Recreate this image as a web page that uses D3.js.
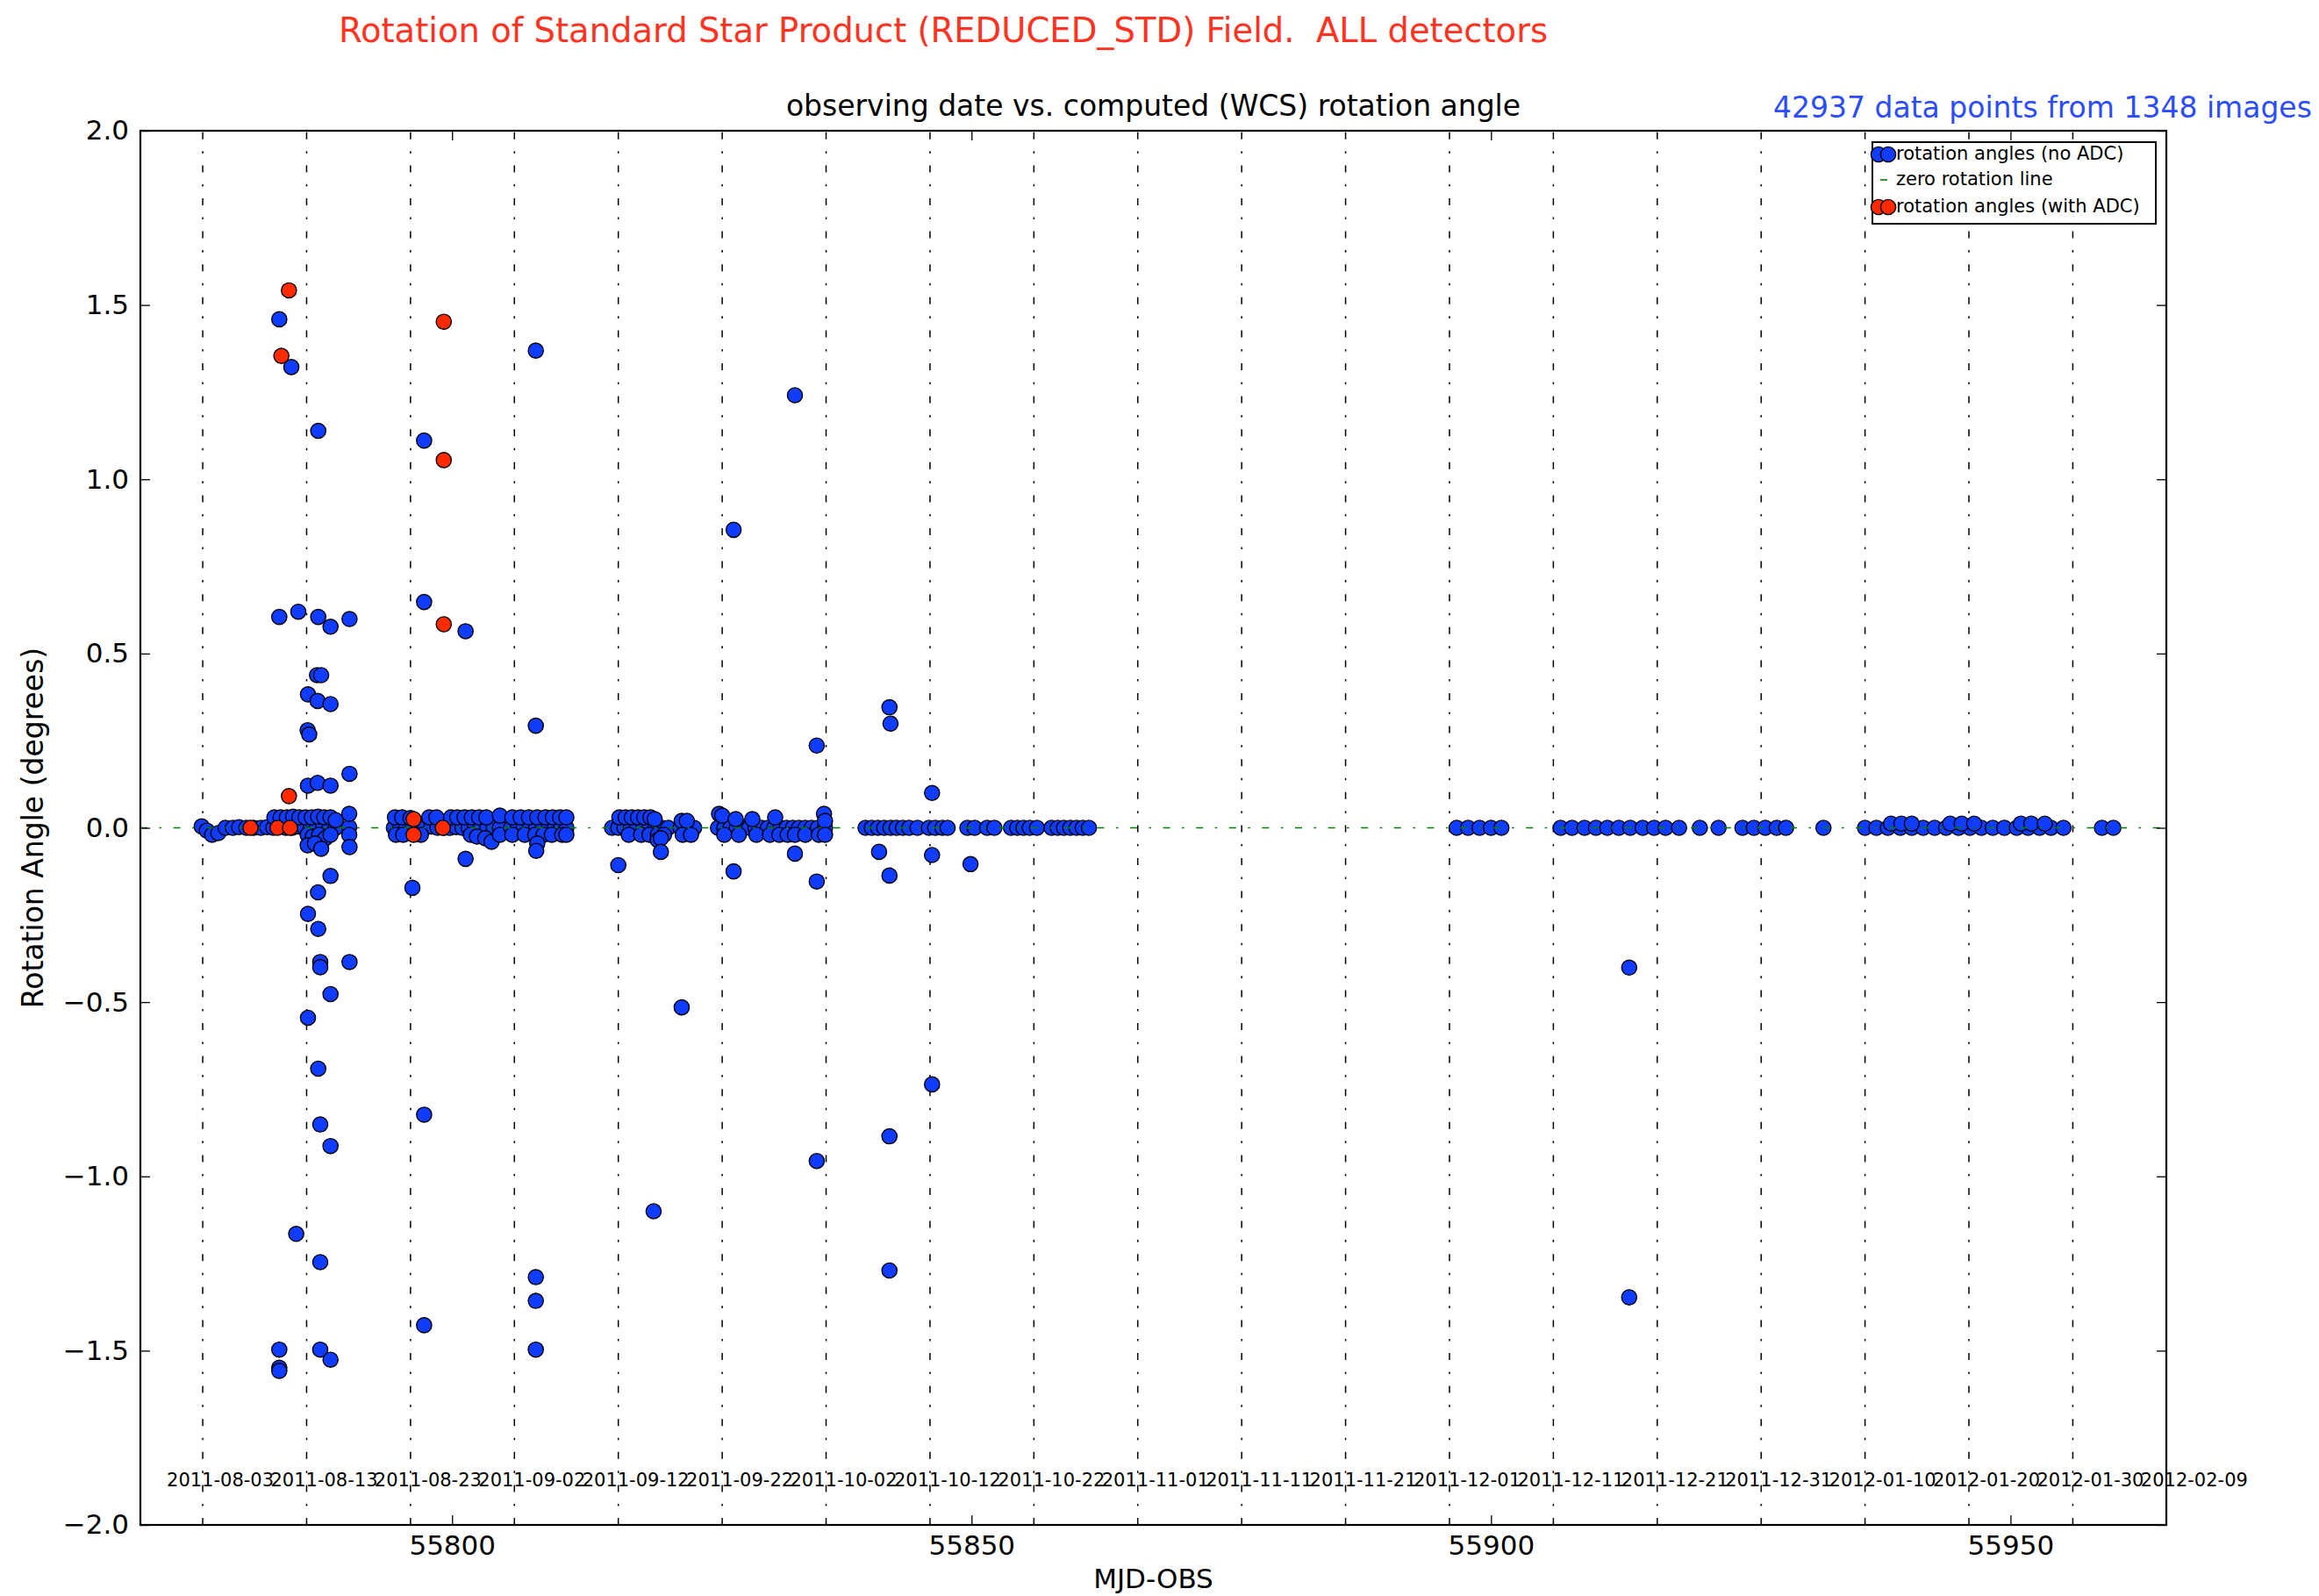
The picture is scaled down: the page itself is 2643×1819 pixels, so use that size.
<!DOCTYPE html>
<html>
<head>
<meta charset="utf-8">
<script src="https://cdn.jsdelivr.net/npm/d3@7"></script>
<style>
  body { margin: 0; background: #fff; }
  svg { display: block; }
  text { font-family: "DejaVu Sans", sans-serif; white-space: pre; }
</style>
</head>
<body>
<svg id="chart" width="2643" height="1819"></svg>
<script>
// ---- data -----------------------------------------------------------------
const dateLabels = [
  '2011-08-03', '2011-08-13', '2011-08-23', '2011-09-02', '2011-09-12',
  '2011-09-22', '2011-10-02', '2011-10-12', '2011-10-22', '2011-11-01',
  '2011-11-11', '2011-11-21', '2011-12-01', '2011-12-11', '2011-12-21',
  '2011-12-31', '2012-01-10', '2012-01-20', '2012-01-30', '2012-02-09'
];
const xTicks = [55800, 55850, 55900, 55950];
const yTicks = [-2.0, -1.5, -1.0, -0.5, 0.0, 0.5, 1.0, 1.5, 2.0];

// [MJD-OBS, rotation angle in degrees] -- frames taken without ADC
const noAdc = [
  // 2011-08-03 .. 2011-08-16
  [55775.9, 0.004], [55776.4, -0.008], [55776.9, -0.02], [55777.5, -0.015], [55778.2, 0.0],
  [55778.9, 0.0], [55779.5, 0.002], [55780.2, 0.0], [55780.9, 0.0], [55781.6, 0.0],
  [55782.2, 0.002], [55782.8, 0.0], [55783.4, 0.008], [55784.0, 0.0], [55784.6, 0.0],
  [55785.2, 0.004], [55785.8, 0.0], [55786.4, 0.006], [55787.0, 0.0], [55787.6, 0.004],
  [55788.2, 0.0], [55788.8, 0.0], [55790.1, 0.002],
  [55782.9, 0.03], [55783.5, 0.03], [55784.1, 0.03], [55784.7, 0.032], [55785.3, 0.03],
  [55785.9, 0.03], [55786.5, 0.03], [55787.1, 0.032], [55787.7, 0.03], [55788.3, 0.03],
  [55788.8, 0.022], [55790.1, 0.04],
  [55786.1, -0.02], [55786.6, -0.025], [55787.2, -0.02], [55787.8, -0.03], [55788.3, -0.02],
  [55790.1, -0.02], [55786.1, -0.05], [55786.8, -0.045], [55787.4, -0.06],
  [55783.37, 1.459], [55784.53, 1.322], [55787.12, 1.139],
  [55783.37, 0.605], [55785.2, 0.62], [55787.12, 0.605], [55788.3, 0.577], [55790.13, 0.599],
  [55787.0, 0.438], [55787.4, 0.438], [55786.13, 0.383], [55787.06, 0.364], [55788.3, 0.355],
  [55786.1, 0.28], [55786.25, 0.268], [55786.13, 0.121], [55787.06, 0.129], [55788.3, 0.121],
  [55790.13, 0.155], [55790.13, -0.055], [55788.3, -0.138], [55787.1, -0.185],
  [55786.13, -0.247], [55787.12, -0.29], [55787.31, -0.385], [55787.31, -0.40],
  [55790.13, -0.385], [55788.3, -0.477], [55786.13, -0.545], [55787.12, -0.691],
  [55787.31, -0.851], [55788.3, -0.913], [55785.0, -1.165], [55787.31, -1.246],
  [55783.37, -1.497], [55783.37, -1.549], [55783.37, -1.558], [55787.31, -1.497], [55788.3, -1.526],
  // 2011-08-21 .. 2011-09-01
  [55794.4, 0.0], [55795.0, 0.0], [55795.6, 0.002], [55796.2, 0.0], [55796.8, 0.0],
  [55797.4, 0.0], [55798.0, 0.004], [55798.6, 0.0], [55799.2, 0.0], [55799.8, 0.0],
  [55800.4, 0.002], [55801.0, 0.0], [55801.6, 0.0], [55802.2, 0.0], [55802.8, 0.004],
  [55803.4, 0.0], [55804.0, 0.0], [55804.6, 0.0],
  [55794.5, 0.03], [55795.2, 0.03], [55796.0, 0.028], [55797.8, 0.03], [55798.5, 0.03],
  [55799.9, 0.03], [55800.5, 0.03], [55801.2, 0.03], [55801.9, 0.03], [55802.6, 0.03],
  [55803.3, 0.03], [55804.6, 0.035],
  [55794.6, -0.02], [55795.3, -0.02], [55797.0, -0.02], [55801.8, -0.02], [55802.4, -0.025],
  [55803.2, -0.03], [55803.8, -0.04], [55804.6, -0.02],
  [55797.31, 1.111], [55797.31, 0.648], [55801.3, 0.564], [55796.18, -0.172],
  [55801.3, -0.089], [55797.31, -0.823], [55797.31, -1.427],
  // 2011-09-01 .. 2011-09-08
  [55805.7, 0.0], [55806.3, 0.0], [55806.9, 0.0], [55807.5, 0.002], [55808.1, 0.0],
  [55808.7, 0.0], [55809.3, 0.0], [55809.9, 0.0], [55810.5, 0.0], [55811.0, 0.0],
  [55805.8, 0.03], [55806.6, 0.03], [55807.4, 0.03], [55808.2, 0.03], [55809.0, 0.03],
  [55809.7, 0.03], [55810.4, 0.03], [55811.0, 0.03],
  [55805.8, -0.02], [55807.0, -0.02], [55808.0, -0.02], [55808.8, -0.02], [55809.6, -0.02],
  [55810.6, -0.02], [55811.0, -0.02], [55808.2, -0.045], [55808.1, -0.066],
  [55808.06, 1.369], [55808.06, 0.293], [55808.06, -1.289], [55808.06, -1.357], [55808.06, -1.497],
  // 2011-09-12 .. 2011-10-04
  [55815.4, 0.0], [55816.0, 0.0], [55816.6, 0.0], [55817.2, 0.0], [55817.8, 0.0],
  [55818.4, 0.0], [55819.0, 0.0], [55819.6, 0.0], [55820.2, 0.0], [55820.8, 0.0],
  [55816.1, 0.03], [55816.7, 0.03], [55817.3, 0.03], [55817.9, 0.03], [55818.5, 0.03],
  [55819.1, 0.03], [55819.5, 0.025],
  [55817.0, -0.02], [55818.2, -0.02], [55819.0, -0.02], [55819.8, -0.02], [55820.4, -0.02],
  [55819.8, -0.035], [55820.1, -0.03],
  [55822.0, 0.0], [55822.6, 0.0], [55823.3, 0.0], [55822.1, 0.02], [55822.6, 0.02],
  [55822.2, -0.02], [55823.0, -0.02],
  [55825.6, 0.0], [55826.2, 0.0], [55826.8, 0.0], [55827.4, 0.0], [55828.0, 0.0],
  [55828.6, 0.0], [55829.2, 0.0], [55829.8, 0.0], [55830.4, 0.0], [55831.0, 0.0],
  [55831.6, 0.0], [55832.2, 0.0], [55832.8, 0.0], [55833.4, 0.0], [55834.0, 0.0],
  [55834.6, 0.0], [55835.2, 0.0], [55835.9, 0.0],
  [55825.7, 0.04], [55826.0, 0.035], [55827.3, 0.025], [55828.9, 0.025], [55831.1, 0.03],
  [55835.8, 0.04], [55835.9, 0.02],
  [55826.2, -0.02], [55827.6, -0.02], [55829.3, -0.02], [55830.6, -0.02], [55831.5, -0.02],
  [55832.3, -0.02], [55833.0, -0.02], [55834.0, -0.02], [55835.3, -0.02], [55835.9, -0.02],
  [55816.0, -0.107], [55820.1, -0.069], [55822.1, -0.515], [55819.4, -1.10],
  [55827.1, 0.855], [55833.0, 1.241], [55835.1, 0.236], [55827.1, -0.125],
  [55833.0, -0.074], [55835.1, -0.154], [55835.1, -0.956],
  // 2011-10-06 .. 2011-10-30
  [55839.8, 0.0], [55840.4, 0.0], [55841.0, 0.0], [55841.6, 0.0], [55842.2, 0.0],
  [55842.8, 0.0], [55843.4, 0.0], [55844.0, 0.0], [55844.8, 0.0],
  [55845.9, 0.0], [55846.5, 0.0], [55847.2, 0.0], [55847.7, 0.0],
  [55849.6, 0.0], [55850.3, 0.0], [55851.5, 0.0], [55852.2, 0.0],
  [55853.8, 0.0], [55854.4, 0.0], [55855.0, 0.0], [55855.6, 0.0], [55856.3, 0.0],
  [55857.7, 0.0], [55858.3, 0.0], [55858.9, 0.0], [55859.5, 0.0], [55860.1, 0.0],
  [55860.7, 0.0], [55861.3, 0.0],
  [55842.1, 0.346], [55842.2, 0.299], [55846.2, 0.100], [55841.1, -0.069],
  [55842.1, -0.137], [55842.1, -0.885], [55842.1, -1.27], [55846.2, -0.078],
  [55846.2, -0.736], [55849.9, -0.104],
  // 2011-11-29 .. 2012-02-01
  [55896.7, 0.0], [55897.8, 0.0], [55898.9, 0.0], [55900.0, 0.0], [55901.0, 0.0],
  [55906.7, 0.0], [55907.8, 0.0], [55909.0, 0.0], [55910.1, 0.0], [55911.2, 0.0],
  [55912.3, 0.0], [55913.4, 0.0], [55914.6, 0.0], [55915.7, 0.0], [55916.8, 0.0],
  [55918.1, 0.0], [55920.1, 0.0], [55921.9, 0.0],
  [55924.2, 0.0], [55925.3, 0.0], [55926.4, 0.0], [55927.5, 0.0], [55928.4, 0.0],
  [55932.0, 0.0],
  [55936.0, 0.0], [55937.1, 0.0], [55938.2, 0.0], [55939.4, 0.0], [55940.5, 0.0],
  [55941.6, 0.0], [55942.7, 0.0], [55943.8, 0.0], [55945.0, 0.0], [55946.1, 0.0],
  [55947.2, 0.0], [55948.3, 0.0], [55949.4, 0.0], [55950.6, 0.0], [55951.7, 0.0],
  [55952.8, 0.0], [55953.9, 0.0], [55955.1, 0.0],
  [55938.5, 0.012], [55939.5, 0.012], [55940.5, 0.012], [55944.2, 0.012], [55945.3, 0.012],
  [55946.5, 0.012], [55951.0, 0.012], [55952.0, 0.012], [55953.3, 0.012],
  [55958.8, 0.0], [55959.9, 0.0],
  [55913.3, -0.401], [55913.3, -1.347]
];

// [MJD-OBS, rotation angle in degrees] -- frames taken with ADC
const withAdc = [
  [55780.6, 0.0], [55783.2, 0.0], [55784.4, 0.0],
  [55784.3, 1.542], [55783.57, 1.354], [55784.3, 0.091],
  [55796.3, 0.025], [55796.3, -0.02], [55799.1, 0.0],
  [55799.2, 1.452], [55799.2, 1.055], [55799.2, 0.584]
];

const titleText = 'Rotation of Standard Star Product (REDUCED_STD) Field.  ALL detectors';
const subtitleText = 'observing date vs. computed (WCS) rotation angle';
const countText = '42937 data points from 1348 images';

// ---- layout ---------------------------------------------------------------
const W = 2643, H = 1819;
const plot = { left: 160, top: 149, right: 2469, bottom: 1738 };
const blue = '#0f3cff', red = '#ff2a00', green = '#008000';
const dashDot = '8 13.5 2.6 13.5';
const markerR = 8.6;

const svg = d3.select('#chart');
svg.append('rect').attr('width', W).attr('height', H).attr('fill', '#fff');

const x = d3.scaleLinear().domain([55770, 55965]).range([plot.left, plot.right]);
const y = d3.scaleLinear().domain([-2, 2]).range([plot.bottom, plot.top]);

// MJD of a calendar date (Unix epoch is MJD 40587)
const toMjd = s => {
  const [yy, mm, dd] = s.split('-').map(Number);
  return Date.UTC(yy, mm - 1, dd) / 864e5 + 40587;
};

svg.append('clipPath').attr('id', 'plotClip')
  .append('rect')
  .attr('x', plot.left).attr('y', plot.top)
  .attr('width', plot.right - plot.left).attr('height', plot.bottom - plot.top);

const inner = svg.append('g').attr('clip-path', 'url(#plotClip)');

// vertical date markers, every ten days (dash pattern starts at the bottom)
inner.append('g').selectAll('line')
  .data(dateLabels)
  .join('line')
  .attr('x1', d => x(toMjd(d))).attr('x2', d => x(toMjd(d)))
  .attr('y1', y(-2)).attr('y2', y(2))
  .attr('stroke', '#000').attr('stroke-width', 1.5)
  .attr('stroke-dasharray', dashDot);

// rotation angles without ADC
inner.append('g').selectAll('circle')
  .data(noAdc)
  .join('circle')
  .attr('cx', d => x(d[0])).attr('cy', d => y(d[1]))
  .attr('r', markerR)
  .attr('fill', blue).attr('stroke', '#000').attr('stroke-width', 1.4);

// zero rotation line
inner.append('line')
  .attr('x1', x(55770)).attr('x2', x(55965))
  .attr('y1', y(0)).attr('y2', y(0))
  .attr('stroke', green).attr('stroke-width', 1.5)
  .attr('stroke-dasharray', dashDot);

// rotation angles with ADC
inner.append('g').selectAll('circle')
  .data(withAdc)
  .join('circle')
  .attr('cx', d => x(d[0])).attr('cy', d => y(d[1]))
  .attr('r', markerR)
  .attr('fill', red).attr('stroke', '#000').attr('stroke-width', 1.4);

// date labels along the bottom of the plot
svg.append('g').selectAll('text')
  .data(dateLabels)
  .join('text')
  .attr('x', d => x(toMjd(d)) - 41)
  .attr('y', 1694)
  .attr('font-size', 21)
  .attr('fill', '#000')
  .text(d => d);

// axes: inward ticks on all four sides
const tickLen = 11;
const fmtY = d3.format('.1f');

const gBottom = svg.append('g').attr('transform', `translate(0,${plot.bottom})`)
  .call(d3.axisBottom(x).tickValues(xTicks).tickFormat(d3.format('d'))
    .tickSizeInner(-tickLen).tickSizeOuter(0).tickPadding(12));
const gTop = svg.append('g').attr('transform', `translate(0,${plot.top})`)
  .call(d3.axisTop(x).tickValues(xTicks).tickFormat('')
    .tickSizeInner(-tickLen).tickSizeOuter(0));
const gLeft = svg.append('g').attr('transform', `translate(${plot.left},0)`)
  .call(d3.axisLeft(y).tickValues(yTicks).tickFormat(fmtY)
    .tickSizeInner(-tickLen).tickSizeOuter(0).tickPadding(13));
const gRight = svg.append('g').attr('transform', `translate(${plot.right},0)`)
  .call(d3.axisRight(y).tickValues(yTicks).tickFormat('')
    .tickSizeInner(-tickLen).tickSizeOuter(0));

[gBottom, gTop, gLeft, gRight].forEach(g => {
  g.select('.domain').remove();
  g.selectAll('.tick line').attr('stroke', '#000').attr('stroke-width', 1.3);
  g.selectAll('.tick text')
    .attr('fill', '#000')
    .attr('font-size', 31)
    .attr('font-family', '"DejaVu Sans", sans-serif');
});

// frame
svg.append('rect')
  .attr('x', plot.left).attr('y', plot.top)
  .attr('width', plot.right - plot.left).attr('height', plot.bottom - plot.top)
  .attr('fill', 'none').attr('stroke', '#000').attr('stroke-width', 2.2);

// axis labels
svg.append('text')
  .attr('x', (plot.left + plot.right) / 2).attr('y', 1810)
  .attr('text-anchor', 'middle').attr('font-size', 31).attr('fill', '#000')
  .text('MJD-OBS');
svg.append('text')
  .attr('transform', `translate(49,${(plot.top + plot.bottom) / 2}) rotate(-90)`)
  .attr('text-anchor', 'middle').attr('font-size', 33).attr('fill', '#000')
  .text('Rotation Angle (degrees)');

// titles
svg.append('text')
  .attr('x', 1075).attr('y', 48)
  .attr('text-anchor', 'middle').attr('font-size', 38.5).attr('fill', '#ff3322')
  .text(titleText);
svg.append('text')
  .attr('x', (plot.left + plot.right) / 2).attr('y', 132)
  .attr('text-anchor', 'middle').attr('font-size', 33).attr('fill', '#000')
  .text(subtitleText);
svg.append('text')
  .attr('x', 2021).attr('y', 134)
  .attr('font-size', 33).attr('fill', '#2c4cff')
  .text(countText);

// legend
const legend = svg.append('g');
legend.append('rect')
  .attr('x', 2134).attr('y', 162).attr('width', 323).attr('height', 93)
  .attr('fill', '#fff').attr('stroke', '#000').attr('stroke-width', 2);

const legendRows = [
  { label: 'rotation angles (no ADC)', kind: 'marker', color: blue, cy: 176 },
  { label: 'zero rotation line', kind: 'line', color: green, cy: 205 },
  { label: 'rotation angles (with ADC)', kind: 'marker', color: red, cy: 236 }
];
legendRows.forEach(r => {
  if (r.kind === 'marker') {
    [2141, 2152].forEach(cx => legend.append('circle')
      .attr('cx', cx).attr('cy', r.cy).attr('r', markerR)
      .attr('fill', r.color).attr('stroke', '#000').attr('stroke-width', 1.4));
  } else {
    legend.append('line')
      .attr('x1', 2143).attr('x2', 2151).attr('y1', r.cy).attr('y2', r.cy)
      .attr('stroke', r.color).attr('stroke-width', 1.6);
  }
  legend.append('text')
    .attr('x', 2161).attr('y', r.cy + 6)
    .attr('font-size', 21).attr('fill', '#000')
    .text(r.label);
});
</script>
</body>
</html>
